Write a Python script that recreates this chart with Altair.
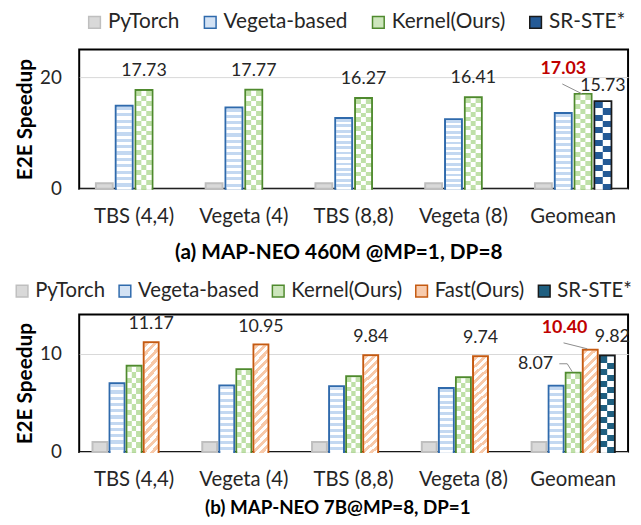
import altair as alt
import pandas as pd

FONT = "Lato"

categories = ["TBS (4,4)", "Vegeta (4)", "TBS (8,8)", "Vegeta (8)", "Geomean"]
series_a = ["PyTorch", "Vegeta-based", "Kernel(Ours)", "SR-STE*"]
series_b = ["PyTorch", "Vegeta-based", "Kernel(Ours)", "Fast(Ours)", "SR-STE*"]

# panel (a): MAP-NEO 460M
a_pytorch = [1, 1, 1, 1, 1]
a_vegeta = [14.9, 14.6, 12.7, 12.5, 13.6]
a_kernel = [17.73, 17.77, 16.27, 16.41, 17.03]
a_srste = [None, None, None, None, 15.73]

# panel (b): MAP-NEO 7B
b_pytorch = [1, 1, 1, 1, 1]
b_vegeta = [7.0, 6.77, 6.7, 6.5, 6.73]
b_kernel = [8.77, 8.43, 7.7, 7.6, 8.07]
b_fast = [11.17, 10.95, 9.84, 9.74, 10.40]
b_srste = [None, None, None, None, 9.82]

title_a = "(a) MAP-NEO 460M @MP=1, DP=8"
title_b = "(b) MAP-NEO 7B@MP=8, DP=1"


def frame(series, cols):
    rows = []
    for s, vals in zip(series, cols):
        for c, v in zip(categories, vals):
            if v is not None:
                rows.append({"category": c, "series": s, "value": v})
    return pd.DataFrame(rows)


df_a = frame(series_a, [a_pytorch, a_vegeta, a_kernel, a_srste])
df_b = frame(series_b, [b_pytorch, b_vegeta, b_kernel, b_fast, b_srste])


# ---------- pattern helpers (Vega linear gradients with hard stops) ----------
def grad(c1, c2, n, frac=0.5, x1=0.5, y1=0.0, x2=0.5, y2=1.0):
    stops = []
    for i in range(n):
        a = i / n
        b = (i + frac) / n
        e = (i + 1) / n
        stops += [alt.GradientStop(offset=round(a, 5), color=c1),
                  alt.GradientStop(offset=round(b, 5), color=c1),
                  alt.GradientStop(offset=round(b, 5), color=c2),
                  alt.GradientStop(offset=round(e, 5), color=c2)]
    return alt.LinearGradient(gradient="linear", stops=stops, x1=x1, y1=y1, x2=x2, y2=y2)


def diag(c1, c2, n, w, h, frac=0.5):
    r = w / h
    yy = (1 + r) / (1 + r * r)
    return grad(c1, c2, n, frac, x1=0.0001, y1=0.0001, x2=r * yy, y2=yy)


GRAY_F, GRAY_S = "#d9d9d9", "#bfbfbf"
BLUE_S, BLUE_P = "#2f6aac", "#c3d8f1"
GREEN_S, GREEN_P = "#4f8a2e", "#bfe0a8"
ORANGE_S, ORANGE_P = "#c55a11", "#f8c9a9"
BLACK_S = "#1a1a1a"
TXT = "#262626"
PLOT_W = 555


def build_panel(df, series, fills, strokes, ymax, yticks, height,
                x_pad, off_pad, inner_w, overlays, texts, leaders, title,
                legend_x, legend_y, col_pad, legend_font, title_font, title_offset, title_dx):
    n_s = len(series)
    band = PLOT_W / len(categories) * (1 - x_pad)
    slot = band / n_s

    def slot_off(name):
        return -band / 2 + slot * (series.index(name) + 0.5)

    X = alt.X("category:N", sort=categories,
              scale=alt.Scale(domain=categories, paddingInner=x_pad, paddingOuter=x_pad / 2),
              axis=alt.Axis(title=None, labelAngle=0, labelFontSize=20.5, labelFont=FONT,
                            labelColor=TXT, labelPadding=18, ticks=False, domain=False))
    XO = alt.XOffset("series:N",
                     scale=alt.Scale(domain=series, paddingInner=off_pad, paddingOuter=off_pad / 2))
    Y = alt.Y("value:Q", scale=alt.Scale(domain=[0, ymax], nice=False),
              axis=alt.Axis(values=yticks, title="E2E Speedup", titleFontSize=21,
                            titleFontWeight="bold", titleFont=FONT, titleColor="#000000",
                            titlePadding=4, labelFontSize=19, labelFont=FONT,
                            labelColor=TXT, labelPadding=18, ticks=False,
                            domain=False, gridColor="#d9d9d9", gridWidth=1))
    leg = alt.Legend(title=None, orient="none", legendX=legend_x, legendY=legend_y,
                     direction="horizontal", symbolType="square", symbolSize=140,
                     symbolStrokeWidth=1.5, labelFontSize=legend_font, labelFont=FONT,
                     labelColor=TXT, columnPadding=col_pad, labelOffset=3)
    base = alt.Chart(df).mark_bar(strokeWidth=2).encode(
        x=X, xOffset=XO, y=Y,
        fill=alt.Fill("series:N", scale=alt.Scale(domain=series, range=fills), legend=leg),
        stroke=alt.Stroke("series:N", scale=alt.Scale(domain=series, range=strokes), legend=leg),
    )
    layers = [base]
    for name, kind, spec in overlays:
        sub = alt.Chart(df).transform_filter(alt.datum.series == name)
        if kind == "fill":
            layers.append(sub.mark_bar(width=inner_w, yOffset=1, fill=spec, strokeWidth=0)
                          .encode(x=X, xOffset=XO, y=Y))
        else:  # checker: one gradient per column, placed by pixel offsets in the slot
            k = len(spec)
            cw = inner_w / k
            for j, g in enumerate(spec):
                off = slot_off(name) - inner_w / 2 + cw * (j + 0.5)
                layers.append(sub.mark_bar(width=cw + 0.3, xOffset=off, yOffset=1, fill=g,
                                           strokeWidth=0)
                              .encode(x=X, y=Y))
    for tdf, props in texts:
        layers.append(alt.Chart(tdf).mark_text(font=FONT, fontSize=18, baseline="middle", **props)
                      .encode(x=X, xOffset=XO, y=Y, text=alt.Text("value:Q", format=".2f")))
    for ldf, name, (ax, ay, bx, by) in leaders:
        so = slot_off(name)
        layers.append(alt.Chart(ldf).mark_rule(color="#8c8c8c", strokeWidth=1,
                                               xOffset=so + ax, yOffset=ay,
                                               x2Offset=so + bx, y2Offset=by)
                      .encode(x=X, y=Y, x2="category:N", y2="value:Q"))
    return alt.layer(*layers).properties(
        width=PLOT_W, height=height,
        title=alt.TitleParams(title, orient="bottom", anchor="middle", fontSize=title_font,
                              font=FONT, fontWeight="bold", color="#000000",
                              offset=title_offset, dx=title_dx),
    )


def pick(df, series, cats):
    return df[(df.series == series) & (df.category.isin(cats))].reset_index(drop=True)


# ---------------- panel (a) ----------------
ov_a = [
    ("Vegeta-based", "fill", grad(BLUE_P, "#ffffff", 13)),
    ("Kernel(Ours)", "checker", [grad(GREEN_P, "#ffffff", 10), grad("#ffffff", GREEN_P, 10),
                                 grad(GREEN_P, "#ffffff", 10)]),
    ("SR-STE*", "checker", [grad("#245a96", "#ffffff", 7), grad("#ffffff", "#245a96", 7)]),
]
texts_a = [
    (pick(df_a, "Kernel(Ours)", categories[:4]), dict(dy=-19, color=TXT)),
    (pick(df_a, "Kernel(Ours)", ["Geomean"]), dict(dx=-20, dy=-25, color="#c00000", fontWeight="bold")),
    (pick(df_a, "SR-STE*", ["Geomean"]), dict(dy=-15, color=TXT)),
]
leaders_a = [(pick(df_a, "Kernel(Ours)", ["Geomean"]), "Kernel(Ours)", (-21, -10, -1, 0))]

chart_a = build_panel(
    df_a, series_a, [GRAY_F, "#d3e2f4", "#cde6bc", "#245a96"],
    [GRAY_S, BLUE_S, GREEN_S, BLACK_S], 25, [0, 20], 141,
    0.277, 0.15, 15, ov_a, texts_a, leaders_a, title_a,
    legend_x=5, legend_y=-38, col_pad=20, legend_font=21, title_font=21,
    title_offset=15, title_dx=-15)

# ---------------- panel (b) ----------------
ov_b = [
    ("Vegeta-based", "fill", grad(BLUE_P, "#ffffff", 11)),
    ("Kernel(Ours)", "checker", [grad(GREEN_P, "#ffffff", 8), grad("#ffffff", GREEN_P, 8),
                                 grad(GREEN_P, "#ffffff", 8)]),
    ("Fast(Ours)", "fill", diag(ORANGE_P, "#ffffff", 14, 13, 104)),
    ("SR-STE*", "checker", [grad("#1f5f80", "#ffffff", 8), grad("#ffffff", "#1f5f80", 8)]),
]
texts_b = [
    (pick(df_b, "Fast(Ours)", categories[:4]), dict(dy=-18, color=TXT)),
    (pick(df_b, "Fast(Ours)", ["Geomean"]), dict(dx=-26, dy=-22, color="#c00000", fontWeight="bold")),
    (pick(df_b, "SR-STE*", ["Geomean"]), dict(dx=5, dy=-19, color=TXT)),
    (pick(df_b, "Kernel(Ours)", ["Geomean"]), dict(dx=-38, dy=-9, color=TXT)),
]
leaders_b = [
    (pick(df_b, "Fast(Ours)", ["Geomean"]), "Fast(Ours)", (-27, -7, -3, -1)),
    (pick(df_b, "Kernel(Ours)", ["Geomean"]), "Kernel(Ours)", (-14, -9, -6, -9)),
    (pick(df_b, "Kernel(Ours)", ["Geomean"]), "Kernel(Ours)", (-6, -9, -1, -1)),
]

chart_b = build_panel(
    df_b, series_b, [GRAY_F, "#d3e2f4", "#cde6bc", "#f8cbad", "#1f5f80"],
    [GRAY_S, BLUE_S, GREEN_S, ORANGE_S, BLACK_S], 14, [0, 10], 139,
    0.222, 0.13, 13, ov_b, texts_b, leaders_b, title_b,
    legend_x=-68, legend_y=-34, col_pad=9, legend_font=20.5, title_font=19,
    title_offset=9, title_dx=-16)

chart = alt.vconcat(chart_a, chart_b, spacing=16).resolve_scale(
    x="independent", y="independent", xOffset="independent",
    fill="independent", stroke="independent",
).resolve_legend(fill="independent", stroke="independent").properties(
    padding={"left": 3, "top": 0, "right": 0, "bottom": 0}
).configure_view(stroke="#000000", strokeWidth=2)

chart.save("out.html", embed_options={"renderer": "svg", "actions": False})
